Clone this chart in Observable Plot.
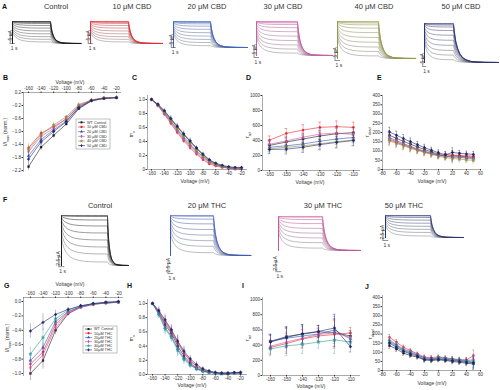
<!DOCTYPE html>
<html><head><meta charset="utf-8">
<script src="https://cdn.jsdelivr.net/npm/d3@7"></script>
<script src="https://cdn.jsdelivr.net/npm/@observablehq/plot@0.6"></script>
<style>
html,body{margin:0;padding:0;background:#fff;}
#fig{position:relative;width:500px;height:390px;overflow:hidden;background:#fff;}
#fig svg{position:absolute;overflow:visible;max-width:none;}
</style></head><body><div id="fig"></div>
<script>
// ================= DATA =================
const cbdLabels=["WT Control","10 μM CBD","20 μM CBD","30 μM CBD","40 μM CBD","50 μM CBD"];
const thcLabels=["WT Control","10μM THC","20μM THC","30μM THC","40μM THC","50μM THC"];
const cbdColors=["#1a1a1a","#e0262b","#2e55b8","#cc4fa0","#8f8f3a","#1e2a6e"];
const thcColors=["#1a1a1a","#e0262b","#2e55b8","#cc4fa0","#2e9a96","#1e2a6e"];
const seriesSymbols=["square","circle","triangle","diamond","star","cross"];

// current traces (row A: CBD, row F: THC)
const aTitles=["Control","10 μM CBD","20 μM CBD","30 μM CBD","40 μM CBD","50 μM CBD"];
const aTraceColors=["#111111","#e8262b","#3a5fc0","#d05aa8","#9b9a45","#232a70"];
const aImax=[11,11,13,17,18.5,19.5];          // μA
const aTailSec=[6,6.7,7.5,6.4,6.8,11.6];        // s
const aBarY=[0,0,0,-1,-1,-2];                   // μA (scale bar base)
const fTitles=["Control","20 μM THC","30 μM THC","50 μM THC"];
const fTraceColors=["#111111","#3556b8","#cc4fa0","#1e2a6e"];
const fImax=[12.5,10,8.5,5.5];
const fTailSec=[3.4,6.5,6.5,5.5];
const fBarY=[-0.3,-4.5,-5.3,-0.75];
const stepSec=7.5;
const aPlateau=[1.0,0.985,0.96,0.91,0.82,0.70,0.57,0.44,0.31,0.19,0.07];
const aStart  =[1.0,1.0,1.0,0.99,0.96,0.91,0.85,0.78,0.71,0.63,0.55];
const fPlateau=[1.0,0.98,0.91,0.79,0.65,0.51,0.37,0.23,0.07];
const fStart  =[1.0,1.0,0.99,0.96,0.91,0.84,0.76,0.66,0.55];
const actT=[0,0.02,0.05,0.09,0.14,0.2,0.28,0.38,0.5,0.65,0.8,1];
const actV=[1,0.8,0.6,0.43,0.3,0.2,0.12,0.065,0.03,0.01,0.003,0];
const tailT=[0,0.02,0.05,0.09,0.14,0.2,0.28,0.38,0.5,0.7,1];
const tailV=[1,0.78,0.55,0.37,0.23,0.13,0.07,0.03,0.012,0.003,0];

// B: normalized current vs voltage (CBD)
const vB=[-160,-140,-120,-100,-80,-60,-40,-20];
const yB=[
 [-2.08,-1.48,-1.12,-0.77,-0.30,-0.06,0.02,0.04],
 [-1.50,-1.05,-0.85,-0.62,-0.22,-0.04,0.03,0.05],
 [-1.75,-1.25,-0.95,-0.68,-0.25,-0.05,0.02,0.04],
 [-1.62,-1.15,-0.90,-0.60,-0.20,-0.03,0.03,0.05],
 [-1.55,-1.10,-0.80,-0.55,-0.17,-0.03,0.03,0.05],
 [-1.85,-1.32,-1.00,-0.70,-0.27,-0.05,0.02,0.04]];
const eB=[0.12,0.1,0.08,0.06,0.04,0.02,0.01,0.01];
const ticksBx=[-160,-140,-120,-100,-80,-60,-40,-20];
const ticksBy=[0.2,-0.2,-0.6,-1.0,-1.4,-1.8,-2.2];

// C: activation (CBD)
const vC=[-160,-150,-140,-130,-120,-110,-100,-90,-80,-70,-60,-50,-40,-30,-20];
const yC=[
 [1.00,0.93,0.83,0.72,0.61,0.50,0.40,0.30,0.21,0.13,0.08,0.05,0.03,0.02,0.02],
 [1.00,0.91,0.79,0.66,0.53,0.41,0.31,0.22,0.14,0.08,0.05,0.03,0.02,0.01,0.01],
 [1.00,0.92,0.81,0.69,0.57,0.45,0.35,0.26,0.18,0.11,0.07,0.04,0.02,0.01,0.01],
 [1.00,0.92,0.80,0.68,0.55,0.43,0.33,0.24,0.16,0.10,0.06,0.04,0.02,0.01,0.01],
 [1.00,0.92,0.82,0.70,0.58,0.47,0.37,0.27,0.19,0.12,0.07,0.04,0.03,0.02,0.02],
 [1.00,0.93,0.84,0.73,0.62,0.51,0.41,0.31,0.22,0.14,0.09,0.06,0.04,0.03,0.03]];
const eC=[0.01,0.02,0.03,0.04,0.04,0.04,0.04,0.03,0.03,0.02,0.02,0.01,0.01,0.01,0.01];
const ticksCx=[-160,-140,-120,-100,-80,-60,-40,-20];
const ticksCy=[0,0.2,0.4,0.6,0.8,1.0];

// D: tau activation (CBD)
const vD=[-160,-150,-140,-130,-120,-110];
const yD=[
 [335,380,420,460,490,505],
 [405,495,540,575,585,575],
 [310,330,355,390,420,440],
 [350,395,445,485,500,480],
 [290,310,330,355,385,405],
 [280,285,310,345,375,400]];
const eD=[55,65,70,70,75,70];
const ticksDx=[-160,-150,-140,-130,-120,-110];
const ticksDy=[0,200,400,600,800,1000];

// E: tau deactivation (CBD)
const vE=[-70,-60,-50,-40,-30,-20,-10,0,10,20,30,40,50];
const yE=[
 [185,168,152,137,122,108,95,82,72,75,72,68,66],
 [160,146,132,119,106,95,85,76,82,78,76,74,72],
 [172,156,140,125,111,99,88,78,70,68,66,62,60],
 [166,150,135,121,108,96,86,77,71,69,67,64,62],
 [155,141,128,115,103,92,82,72,64,60,56,52,50],
 [203,185,167,150,134,118,104,90,80,92,88,84,82]];
const eE=[25,22,22,20,18,18,16,16,15,25,15,15,15];
const ticksEx=[-80,-60,-40,-20,0,20,40,60];
const ticksEy=[0,50,100,150,200,250,300,350,400];

// G: normalized current (THC)
const vG=[-160,-140,-120,-100,-80,-60,-40,-20];
const yG=[
 [-1.00,-0.82,-0.40,-0.17,-0.08,-0.04,-0.02,-0.01],
 [-0.87,-0.70,-0.32,-0.15,-0.07,-0.03,-0.02,-0.01],
 [-0.82,-0.64,-0.28,-0.14,-0.07,-0.03,-0.02,-0.01],
 [-0.92,-0.74,-0.36,-0.16,-0.08,-0.04,-0.02,-0.01],
 [-0.73,-0.50,-0.24,-0.12,-0.06,-0.03,-0.01,0.00],
 [-0.41,-0.29,-0.18,-0.11,-0.06,-0.03,-0.01,0.00]];
const eG=[0.1,0.12,0.06,0.03,0.02,0.01,0.01,0.01];
const ticksGx=[-160,-140,-120,-100,-80,-60,-40,-20];
const ticksGy=[0,-0.2,-0.4,-0.6,-0.8,-1.0];

// H: activation (THC)
const vH=[-160,-150,-140,-130,-120,-110,-100,-90,-80,-70,-60,-50,-40,-30,-20];
const yH=[
 [1.00,0.87,0.70,0.58,0.40,0.26,0.16,0.09,0.05,0.03,0.02,0.01,0.01,0.02,0.02],
 [1.00,0.88,0.73,0.60,0.44,0.30,0.19,0.11,0.07,0.04,0.02,0.02,0.02,0.02,0.03],
 [1.00,0.85,0.66,0.54,0.36,0.23,0.14,0.08,0.05,0.03,0.02,0.01,0.01,0.02,0.02],
 [1.00,0.89,0.75,0.62,0.46,0.31,0.20,0.12,0.07,0.04,0.03,0.02,0.02,0.02,0.03],
 [1.00,0.84,0.64,0.52,0.34,0.21,0.13,0.08,0.04,0.03,0.02,0.01,0.01,0.02,0.02],
 [1.00,0.90,0.77,0.63,0.47,0.33,0.22,0.14,0.08,0.05,0.03,0.02,0.02,0.03,0.03]];
const eH=[0.01,0.05,0.08,0.07,0.09,0.07,0.05,0.04,0.03,0.02,0.01,0.01,0.01,0.01,0.01];
const ticksHx=[-160,-140,-120,-100,-80,-60,-40,-20];
const ticksHy=[0,0.2,0.4,0.6,0.8,1.0];

// I: tau activation (THC)
const vI=[-160,-150,-140,-130,-120,-110];
const yI=[
 [447,513,545,575,565,520],
 [370,420,480,520,540,560],
 [455,490,520,545,600,480],
 [385,440,490,540,560,500],
 [350,390,410,440,470,440],
 [440,500,550,580,625,380]];
const eI=[90,130,120,80,180,70];
const ticksIx=[-160,-150,-140,-130,-120,-110];
const ticksIy=[0,200,400,600,800,1000];

// J: tau deactivation (THC)
const vJ=[-70,-60,-50,-40,-30,-20,-10,0,10,20,30,40,50];
const yJ=[
 [136,118,95,82,73,58,55,58,55,49,45,40,36],
 [182,155,127,109,91,73,70,75,70,64,60,58,82],
 [155,135,110,95,85,70,64,66,62,58,54,50,46],
 [167,142,116,104,87,68,62,70,64,60,56,54,60],
 [160,140,112,100,82,64,60,72,67,62,58,54,52],
 [150,127,105,90,78,60,58,62,58,54,50,46,42]];
const eJ=[15,14,12,10,10,12,12,10,10,12,12,14,30];
const ticksJx=[-80,-60,-40,-20,0,20,40,60];
const ticksJy=[0,50,100,150,200,250,300,350,400];

// ================= DRAWING =================
const FONT="Arial, 'Liberation Sans', sans-serif";
const fig=document.getElementById("fig");
function place(node,left,top){node.style.left=left+"px";node.style.top=top+"px";fig.appendChild(node);}
const f1=d3.format(".1f");

function xyPanel(c){
  const [L,T,R,B]=c.frame, m=30;
  const marks=[];
  const top=c.xAnchor==="top";
  marks.push(Plot.ruleX([c.xDomain[0]],{stroke:"#555",strokeWidth:0.5}));
  marks.push(Plot.ruleY([top?c.yDomain[1]:c.yDomain[0]],{stroke:"#555",strokeWidth:0.5}));
  c.ys.forEach((ser,si)=>{
    const rows=c.xs.map((x,k)=>({x,y:ser[k],e:c.err[k]}));
    const col=c.colors[si];
    marks.push(Plot.ruleX(rows,{x:"x",y1:d=>d.y-d.e,y2:d=>d.y+d.e,stroke:col,strokeWidth:0.4,strokeOpacity:0.8}));
    if(c.cap){
      marks.push(Plot.ruleY(rows,{y:d=>d.y+d.e,x1:d=>d.x-c.cap,x2:d=>d.x+c.cap,stroke:col,strokeWidth:0.4}));
      marks.push(Plot.ruleY(rows,{y:d=>d.y-d.e,x1:d=>d.x-c.cap,x2:d=>d.x+c.cap,stroke:col,strokeWidth:0.4}));
    }
    marks.push(Plot.line(rows,{x:"x",y:"y",stroke:col,strokeWidth:0.6}));
    marks.push(Plot.dot(rows,{x:"x",y:"y",symbol:seriesSymbols[si],fill:col,stroke:col,r:c.r||1.1,strokeWidth:0.3}));
  });
  marks.push(Plot.axisX({anchor:top?"top":"bottom",ticks:c.xTicks,tickSize:1.5,tickPadding:1,label:null,tickFormat:c.xFmt||(d=>String(d))}));
  marks.push(Plot.axisY({anchor:"left",ticks:c.yTicks,tickSize:1.5,tickPadding:1,label:null,tickFormat:c.yFmt||(d=>String(d))}));
  const svg=Plot.plot({width:R-L+2*m,height:B-T+2*m,margin:m,
    x:{domain:c.xDomain},y:{domain:c.yDomain},
    style:{fontSize:"4.5px",fontFamily:FONT,color:"#333",background:"transparent",overflow:"visible"},
    marks});
  place(svg,L-m,T-m);
}

function tracePanel(lay,imax,tailSec,color,plat,start,barY,barLen,barLabel){
  const pps=(lay.stepEnd-lay.left)/stepSec;
  const tEnd=stepSec+tailSec;
  const m=20, w=tEnd*pps, h=lay.base-lay.top, n=plat.length;
  const marks=[];
  for(let i=n-1;i>=0;i--){
    const p=plat[i], s=start[i];
    const rows=[{t:0,I:0}];
    actT.forEach((f,k)=>rows.push({t:f*stepSec,I:imax*(p+(s-p)*actV[k])}));
    tailT.forEach((f,k)=>rows.push({t:stepSec+f*tailSec,I:imax*p*tailV[k]}));
    const col=d3.interpolateRgb(color,"#8c8c8c")(Math.min(1,i/(n-1)*0.95));
    marks.push(Plot.line(rows,{x:"t",y:"I",stroke:col,strokeWidth:0.55}));
  }
  const bt=-0.45;
  marks.push(Plot.ruleX([bt],{y1:barY,y2:barY+barLen,stroke:"#444",strokeWidth:0.6}));
  marks.push(Plot.ruleY([barY],{x1:bt,x2:bt+1,stroke:"#444",strokeWidth:0.6}));
  marks.push(Plot.text([barLabel],{x:bt,y:barY+barLen/2,text:d=>d,rotate:-90,dy:-3.2,fontSize:5,fill:"#333"}));
  marks.push(Plot.text(["1 s"],{x:bt+0.1,y:barY,text:d=>d,dy:4.5,textAnchor:"start",fontSize:5,fill:"#333"}));
  const svg=Plot.plot({width:w+2*m,height:h+2*m,margin:m,
    x:{domain:[0,tEnd],axis:null},y:{domain:[0,imax],axis:null},
    style:{fontFamily:FONT,background:"transparent",overflow:"visible"},marks});
  place(svg,lay.left-m,lay.top-m);
}

// ---- layouts ----
const aLay=[
 {left:12,stepEnd:50,top:21,base:43,tx:56},
 {left:90,stepEnd:128,top:21,base:43,tx:132},
 {left:173,stepEnd:210,top:21,base:47,tx:207},
 {left:256,stepEnd:297,top:21,base:55,tx:283},
 {left:337,stepEnd:378,top:21,base:58,tx:374},
 {left:424,stepEnd:453,top:23,base:62,tx:461}];
const fLay=[
 {left:61,stepEnd:107,top:215,base:265,tx:100},
 {left:170,stepEnd:213,top:215,base:255,tx:207},
 {left:278,stepEnd:322,top:216,base:250,tx:323},
 {left:385,stepEnd:430,top:215,base:237,tx:404}];

aLay.forEach((l,i)=>tracePanel(l,aImax[i],aTailSec[i],aTraceColors[i],aPlateau,aStart,aBarY[i],5,"5 μA"));
fLay.forEach((l,i)=>tracePanel(l,fImax[i],fTailSec[i],fTraceColors[i],fPlateau,fStart,fBarY[i],2.5,"2.5 μA"));

xyPanel({frame:[23,92,121,172],xDomain:[-168,-12],yDomain:[-2.26,0.2],xAnchor:"top",xs:vB,ys:yB,err:eB,colors:cbdColors,xTicks:ticksBx,yTicks:ticksBy,yFmt:f1});
xyPanel({frame:[147,95,247,169],xDomain:[-166.2,-10.7],yDomain:[0,1.057],xs:vC,ys:yC,err:eC,colors:cbdColors,xTicks:ticksCx,yTicks:ticksCy,yFmt:d=>d===0?"0":f1(d)});
xyPanel({frame:[262,95,360,170],xDomain:[-164.2,-105.8],yDomain:[0,1000],xs:vD,ys:yD,err:eD,cap:0.8,colors:cbdColors,xTicks:ticksDx,yTicks:ticksDy});
xyPanel({frame:[382,95,480,169],xDomain:[-80,60],yDomain:[0,400],xs:vE,ys:yE,err:eE,cap:1.2,colors:cbdColors,xTicks:ticksEx,yTicks:ticksEy});
xyPanel({frame:[23,297,123,376],xDomain:[-171,-11.9],yDomain:[-1.042,0.0556],xAnchor:"top",xs:vG,ys:yG,err:eG,colors:thcColors,xTicks:ticksGx,yTicks:ticksGy,yFmt:f1});
xyPanel({frame:[147,299,247,374],xDomain:[-168,-8.9],yDomain:[0,1.056],xs:vH,ys:yH,err:eH,colors:thcColors,xTicks:ticksHx,yTicks:ticksHy,yFmt:f1});
xyPanel({frame:[262,297,360,375],xDomain:[-165,-103.75],yDomain:[0,1026],xs:vI,ys:yI,err:eI,cap:0.8,colors:thcColors,xTicks:ticksIx,yTicks:ticksIy});
xyPanel({frame:[382,295,480,370],xDomain:[-80,60],yDomain:[0,411],xs:vJ,ys:yJ,err:eJ,cap:1.2,colors:thcColors,xTicks:ticksJx,yTicks:ticksJy});

// ---- overlay texts and legends ----
const ov=d3.create("svg").attr("width",500).attr("height",390).style("left","0px").style("top","0px")
  .style("font-family",FONT).style("pointer-events","none");
function txt(x,y,s,o={}){
  const size=o.size||5;
  const t=ov.append("text").attr("x",x).attr("y",y).attr("font-size",size).attr("fill",o.color||"#333")
    .attr("text-anchor",o.anchor||"start");
  if(o.bold)t.attr("font-weight","bold");
  if(o.rotate)t.attr("transform",`rotate(${o.rotate},${x},${y})`);
  if(Array.isArray(s)){s.forEach(p=>{const sp=t.append("tspan").text(p.t);if(p.sub)sp.attr("baseline-shift","sub").attr("font-size",size*0.7);});}
  else t.text(s);
}
txt(2,9,"A",{size:7,bold:true,color:"#111"});
aLay.forEach((l,i)=>txt(l.tx,9,aTitles[i],{size:7.5,anchor:"middle"}));
fLay.forEach((l,i)=>txt(l.tx,208,fTitles[i],{size:7.5,anchor:"middle"}));
[["B",3,80],["C",132,80],["D",246,80],["E",377,80],["F",3,202],["G",4,288],["H",127,288],["I",242,288],["J",365,289]]
  .forEach(([s,x,y])=>txt(x,y,s,{size:7,bold:true,color:"#111"}));
txt(70,84,"Voltage (mV)",{size:5,anchor:"middle"});
txt(70,286,"Voltage (mV)",{size:5,anchor:"middle"});
[[195,183],[310,184],[432,183],[192,387],[311,388],[432,385]].forEach(([x,y])=>txt(x,y,"Voltage (mV)",{size:5,anchor:"middle"}));
txt(7,132,[{t:"I/I"},{t:"max",sub:true},{t:" (norm.)"}],{size:5,anchor:"middle",rotate:-90});
txt(9,338,[{t:"I/I"},{t:"max",sub:true},{t:" (norm.)"}],{size:5,anchor:"middle",rotate:-90});
txt(133,134,[{t:"m"},{t:"∞",sub:true}],{size:5,anchor:"middle",rotate:-90});
txt(133,338,[{t:"m"},{t:"∞",sub:true}],{size:5,anchor:"middle",rotate:-90});
txt(249,135,[{t:"τ"},{t:"act",sub:true}],{size:5,anchor:"middle",rotate:-90});
txt(249,338,[{t:"τ"},{t:"act",sub:true}],{size:5,anchor:"middle",rotate:-90});
txt(369,132,[{t:"τ"},{t:"deact",sub:true}],{size:5,anchor:"middle",rotate:-90});
txt(372,334,[{t:"τ"},{t:"deact",sub:true}],{size:5,anchor:"middle",rotate:-90});

const symMap={square:d3.symbolSquare,circle:d3.symbolCircle,triangle:d3.symbolTriangle,diamond:d3.symbolDiamond,star:d3.symbolStar,cross:d3.symbolCross};
function legend(x,y,w,h,labels,colors){
  ov.append("rect").attr("x",x).attr("y",y).attr("width",w).attr("height",h).attr("fill","#fff").attr("stroke","#666").attr("stroke-width",0.4);
  const step=(h-2)/labels.length;
  labels.forEach((lab,i)=>{
    const cy=y+1+step*(i+0.5);
    ov.append("line").attr("x1",x+2).attr("x2",x+9).attr("y1",cy).attr("y2",cy).attr("stroke",colors[i]).attr("stroke-width",0.6);
    ov.append("path").attr("d",d3.symbol(symMap[seriesSymbols[i]],4)()).attr("transform",`translate(${x+5.5},${cy})`).attr("fill",colors[i]);
    ov.append("text").attr("x",x+11).attr("y",cy+1.3).attr("font-size",3.8).attr("fill","#333").text(lab);
  });
}
legend(76,119,34,30,cbdLabels,cbdColors);
legend(83,326,34,27,thcLabels,thcColors);
fig.appendChild(ov.node());
</script></body></html>
